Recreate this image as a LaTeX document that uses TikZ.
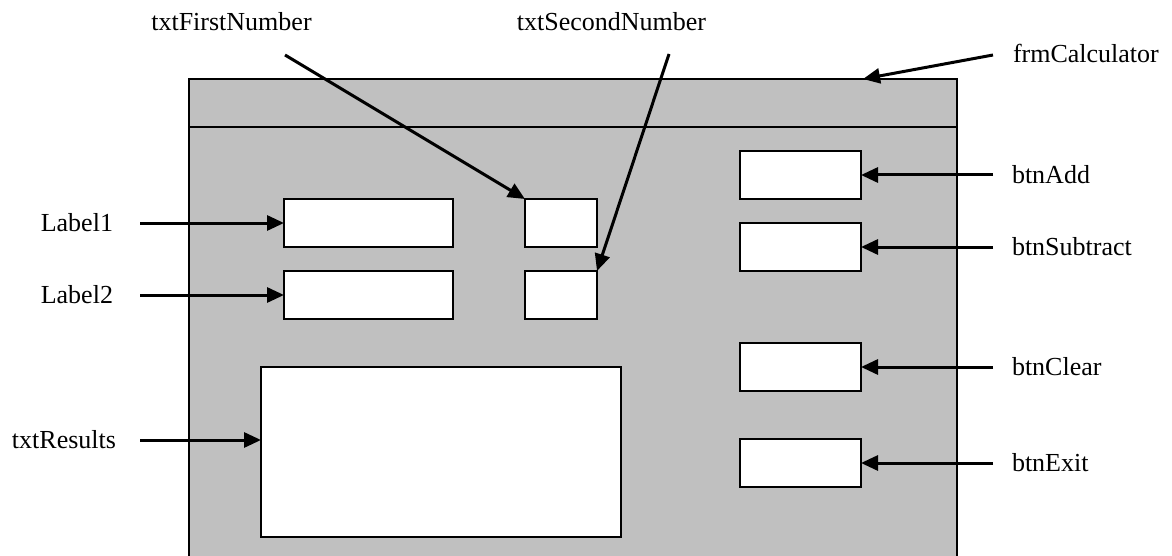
\documentclass[tikz,border=0pt]{standalone}
\usepackage{fontspec}
\setmainfont{Liberation Serif}
\usetikzlibrary{positioning,arrows.meta}
\definecolor{formgray}{RGB}{192,192,192}

\begin{document}
\begin{tikzpicture}[x=1pt, y=-1pt, node distance=24pt,
        ctl/.style = {draw, fill=white, line width=2.4pt, inner sep=0pt, outer sep=0pt, minimum height=48pt},
        btn/.style = {ctl, minimum width=121pt},
        ident/.style = {inner sep=4pt, outer sep=0pt, font=\fontsize{26}{30}\selectfont},
        pointer/.style = {-{Triangle[length=17pt, width=15pt]}, line width=3pt}]
        \useasboundingbox (0,0) rectangle (1172,556);
        \clip (0,0) rectangle (1172,556);

        % the form and its title bar
        \node[draw, fill=formgray, line width=2.4pt, inner sep=0pt, outer sep=0pt, anchor=north west,
              minimum width=768pt, minimum height=520pt] (frm) at (189,79) {};
        \draw[line width=2.2pt] (frm.north west) ++(0,48) -- ++(768,0);

        % controls
        \node[ctl, minimum width=169pt, anchor=north west] (lbl1) at (284,199) {};
        \node[ctl, minimum width=169pt, below=of lbl1] (lbl2) {};
        \node[ctl, minimum width=72pt, anchor=north west] (txt1) at (525,199) {};
        \node[ctl, minimum width=72pt, below=of txt1] (txt2) {};
        \node[ctl, minimum width=360pt, minimum height=170pt, anchor=north west] (res) at (261,367) {};
        \node[btn, anchor=north west] (add) at (740,151) {};
        \node[btn, below=of add] (sub) {};
        \node[btn, below=72pt of sub] (clr) {};
        \node[btn, below=48pt of clr] (ext) {};

        % names
        \node[ident, left=167pt of lbl1] (nLabel1) {Label1};
        \node[ident, left=167pt of lbl2] (nLabel2) {Label2};
        \node[ident, anchor=east] (nResults) at (120,440) {txtResults};
        \node[ident, right=147pt of add] (nAdd) {btnAdd};
        \node[ident, right=147pt of sub] (nSub) {btnSubtract};
        \node[ident, right=147pt of clr] (nClear) {btnClear};
        \node[ident, right=147pt of ext] (nExit) {btnExit};
        \node[ident, anchor=base] (nFirst) at (231.5,31) {txtFirstNumber};
        \node[ident, anchor=base] (nSecond) at (611.5,31) {txtSecondNumber};
        \node[ident, anchor=base west] (nForm) at (1009,63) {frmCalculator};

        \coordinate (fromFirst) at (285,55);
        \coordinate (fromSecond) at (669,54);
        \coordinate (fromForm) at (993,55);
        \coordinate (frmTop) at (863,79);

        % pointers
        \draw[pointer, shorten <=23pt] (nLabel1) -- (lbl1);
        \draw[pointer, shorten <=23pt] (nLabel2) -- (lbl2);
        \draw[pointer, shorten <=20pt] (nResults.east) -- (nResults.east -| res.west);
        \draw[pointer, shorten <=15pt] (nAdd) -- (add);
        \draw[pointer, shorten <=15pt] (nSub) -- (sub);
        \draw[pointer, shorten <=15pt] (nClear) -- (clr);
        \draw[pointer, shorten <=15pt] (nExit) -- (ext);
        \draw[pointer] (fromFirst) -- (txt1.north west);
        \draw[pointer] (fromSecond) -- (txt2.north east);
        \draw[pointer] (fromForm) -- (frmTop);
    \end{tikzpicture}
\end{document}
